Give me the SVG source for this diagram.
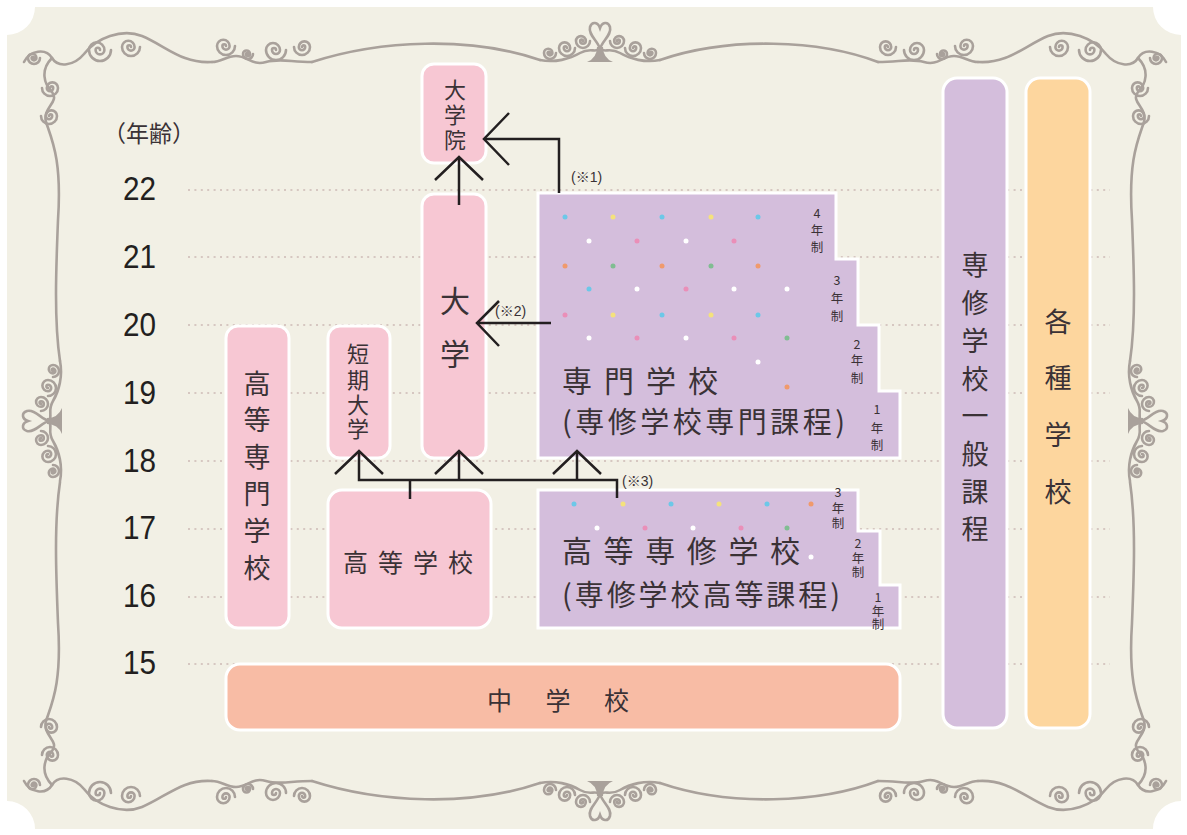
<svg xmlns="http://www.w3.org/2000/svg" xmlns:xlink="http://www.w3.org/1999/xlink" width="1187" height="835" viewBox="0 0 1187 835">
  <style>
    .orn { fill: none; stroke: #a9a19b; stroke-width: 2.6; stroke-linecap: round; }
    .ornfill { fill: #a9a19b; stroke: none; }
    .grid { stroke: #d6c7c1; stroke-width: 2; stroke-dasharray: 2 4.4; }
    .pink { fill: #f7c7d3; stroke: #ffffff; stroke-width: 3; }
    .purple { fill: #d4bedc; stroke: #ffffff; stroke-width: 3; }
    .orange { fill: #fdd69e; stroke: #ffffff; stroke-width: 3; }
    .salmon { fill: #f8bca5; stroke: #ffffff; stroke-width: 3; }
    .jp { font-family: "Noto Sans CJK JP", "Noto Sans CJK SC", sans-serif; fill: #3a3236; }
    .v { text-anchor: middle; dominant-baseline: central; }
    .age { font-family: "Liberation Sans", "Noto Sans", sans-serif; font-size: 33px; fill: #231f20; }
    .note { font-family: "Liberation Sans", "Noto Sans CJK JP", sans-serif; font-size: 14px; fill: #3a3236; }
    .yr { font-family: "Noto Sans CJK JP", sans-serif; font-size: 12.5px; fill: #3a3236; text-anchor: middle; dominant-baseline: central; }
    .ln { fill: none; stroke: #231f20; stroke-width: 2.5; stroke-linecap: butt; stroke-linejoin: miter; }
    .dc { fill: #6cc8e8; } .dy { fill: #f4e27c; } .dw { fill: #ffffff; }
    .dp { fill: #ea8fb8; } .do { fill: #f09a6c; } .dg { fill: #80bd92; }
  </style>
  <defs>
    <!-- inward spiral, radius 10 -->
    <path id="sp" d="M10,0 A10,10 0 0 1 -10,0 A7,7 0 0 1 4,0 A4,4 0 0 1 -4,0 A2,2 0 0 1 0,0" vector-effect="non-scaling-stroke"/>
    <!-- corner flourish (top-left orientation) -->
    <g id="corner">
      <path d="M24,62 C30,50 46,48 52,58 C58,68 74,66 84,54 C96,38 122,28 142,36 C166,46 182,64 212,62"/>
      <path d="M52,58 C40,70 44,84 52,92 C60,102 42,108 46,122 C52,140 62,160 58,220 C56,270 54,320 60,361"/>
      <use href="#sp" transform="translate(34,58) scale(0.6)"/>
      <use href="#sp" transform="translate(100,50) scale(1.1)"/>
      <use href="#sp" transform="translate(131,47) scale(0.9)"/>
      <use href="#sp" transform="translate(50,88) scale(-0.8,0.8)"/>
      <use href="#sp" transform="translate(49,116) scale(-0.8,0.8)"/>
    </g>
    <!-- small flourish beside the corner -->
    <g id="side">
      <path d="M212,62 C222,62 226,56 236,56 C248,56 252,66 266,62 C280,58 290,62 312,62"/>
      <use href="#sp" transform="translate(226,46) scale(0.9)"/>
      <use href="#sp" transform="translate(248,54) scale(0.5)"/>
      <use href="#sp" transform="translate(276,50) scale(1)"/>
      <use href="#sp" transform="translate(302,47) scale(-0.8,0.8)"/>
    </g>
    <!-- central heart ornament -->
    <g id="centre">
      <path d="M-60,15 C-45,18 -30,14 -20,8 C-10,2 -5,8 0,4 C5,8 10,2 20,8 C30,14 45,18 60,15"/>
      <path d="M0,4 C-2,-4 -12,-10 -10,-18 C-8,-24 -2,-23 0,-17 C2,-23 8,-24 10,-18 C12,-10 2,-4 0,4"/>
      <use href="#sp" transform="translate(-17,-4) scale(0.7)"/>
      <use href="#sp" transform="translate(17,-4) scale(-0.7,0.7)"/>
      <use href="#sp" transform="translate(-33,3) scale(0.8)"/>
      <use href="#sp" transform="translate(33,3) scale(-0.8,0.8)"/>
      <use href="#sp" transform="translate(-50,8) scale(0.6)"/>
      <use href="#sp" transform="translate(50,8) scale(-0.6,0.6)"/>
      <path class="ornfill" d="M-13,17 Q-3,13 -3,2 L3,2 Q3,13 13,17 Z"/>
    </g>
  </defs>

  <!-- background panel with notched corners -->
  <rect width="1187" height="835" fill="#ffffff"/>
  <path d="M35,7 H1153 A28,28 0 0 0 1181,35 V801 A28,28 0 0 0 1153,829 H35 A28,28 0 0 0 7,801 V35 A28,28 0 0 0 35,7 Z" fill="#f2f0e5"/>

  <!-- decorative frame -->
  <g id="frame" class="orn">
    <use href="#corner"/>
    <use href="#corner" transform="translate(1190,0) scale(-1,1)"/>
    <use href="#corner" transform="translate(0,843) scale(1,-1)"/>
    <use href="#corner" transform="translate(1190,843) scale(-1,-1)"/>
    <use href="#side"/>
    <use href="#side" transform="translate(1190,0) scale(-1,1)"/>
    <use href="#side" transform="translate(0,843) scale(1,-1)"/>
    <use href="#side" transform="translate(1190,843) scale(-1,-1)"/>
    <use href="#centre" transform="translate(600,45)"/>
    <use href="#centre" transform="translate(600,798) scale(1,-1)"/>
    <use href="#centre" transform="translate(45,421) rotate(-90)"/>
    <use href="#centre" transform="translate(1145,421) rotate(90)"/>
    <path d="M312,62 C380,40 470,36 540,60"/>
    <path d="M660,60 C730,36 820,40 878,62"/>
    <path d="M312,781 C380,803 470,807 540,783"/>
    <path d="M660,783 C730,807 820,803 878,781"/>
  </g>

  <!-- age scale -->
  <g id="ages">
    <text class="jp" x="103" y="132" font-size="23" dominant-baseline="central">（年齢）</text>
    <text class="age" transform="translate(123,200) scale(0.9,1)">22</text>
    <text class="age" transform="translate(123,268) scale(0.9,1)">21</text>
    <text class="age" transform="translate(123,336) scale(0.9,1)">20</text>
    <text class="age" transform="translate(123,404) scale(0.9,1)">19</text>
    <text class="age" transform="translate(123,472) scale(0.9,1)">18</text>
    <text class="age" transform="translate(123,539) scale(0.9,1)">17</text>
    <text class="age" transform="translate(123,607) scale(0.9,1)">16</text>
    <text class="age" transform="translate(123,674) scale(0.9,1)">15</text>
  </g>
  <g id="gridlines" class="grid">
    <line x1="188" y1="190" x2="1110" y2="190"/>
    <line x1="188" y1="257" x2="1110" y2="257"/>
    <line x1="188" y1="325" x2="1110" y2="325"/>
    <line x1="188" y1="393" x2="1110" y2="393"/>
    <line x1="188" y1="461" x2="1110" y2="461"/>
    <line x1="188" y1="529" x2="1110" y2="529"/>
    <line x1="188" y1="597" x2="1110" y2="597"/>
    <line x1="188" y1="664" x2="1110" y2="664"/>
  </g>

  <!-- schools -->
  <g id="n-daigakuin">
    <rect class="pink" x="422" y="64" width="64" height="99" rx="12"/>
    <text class="jp v" font-size="22" x="455" y="88">大</text>
    <text class="jp v" font-size="22" x="455" y="113">学</text>
    <text class="jp v" font-size="22" x="455" y="138">院</text>
  </g>
  <g id="n-daigaku">
    <rect class="pink" x="422" y="194" width="64" height="264" rx="12"/>
    <text class="jp v" font-size="30" x="455" y="299">大</text>
    <text class="jp v" font-size="30" x="455" y="352">学</text>
  </g>
  <g id="n-tanki">
    <rect class="pink" x="328" y="326" width="62" height="132" rx="12"/>
    <text class="jp v" font-size="22" x="358" y="352">短</text>
    <text class="jp v" font-size="22" x="358" y="378">期</text>
    <text class="jp v" font-size="22" x="358" y="403">大</text>
    <text class="jp v" font-size="22" x="358" y="427">学</text>
  </g>
  <g id="n-kosen">
    <rect class="pink" x="226" y="326" width="63" height="302" rx="12"/>
    <text class="jp v" font-size="27" x="257" y="382">高</text>
    <text class="jp v" font-size="27" x="257" y="418">等</text>
    <text class="jp v" font-size="27" x="257" y="455">専</text>
    <text class="jp v" font-size="27" x="257" y="492">門</text>
    <text class="jp v" font-size="27" x="257" y="529">学</text>
    <text class="jp v" font-size="27" x="257" y="566">校</text>
  </g>
  <g id="n-koko">
    <rect class="pink" x="328" y="490" width="163" height="138" rx="14"/>
    <text class="jp" font-size="25" x="343" y="561" dominant-baseline="central" textLength="130" lengthAdjust="spacing">高等学校</text>
  </g>
  <g id="n-senmon">
    <path class="purple" d="M538,193 H836 V259 H858 V325 H879 V391 H900 V458 H538 Z"/>
    <circle class="dc" cx="565" cy="217" r="2.5"/><circle class="dy" cx="613" cy="217" r="2.5"/><circle class="dc" cx="662" cy="217" r="2.5"/><circle class="dy" cx="711" cy="217" r="2.5"/><circle class="dc" cx="758" cy="217" r="2.5"/>
    <circle class="dw" cx="589" cy="241" r="2.5"/><circle class="dp" cx="637" cy="241" r="2.5"/><circle class="dw" cx="686" cy="241" r="2.5"/><circle class="dp" cx="734" cy="241" r="2.5"/>
    <circle class="do" cx="565" cy="266" r="2.5"/><circle class="dg" cx="613" cy="266" r="2.5"/><circle class="do" cx="662" cy="266" r="2.5"/><circle class="dg" cx="711" cy="266" r="2.5"/><circle class="do" cx="758" cy="266" r="2.5"/>
    <circle class="dc" cx="589" cy="289" r="2.5"/><circle class="dw" cx="637" cy="289" r="2.5"/><circle class="dp" cx="686" cy="289" r="2.5"/><circle class="dw" cx="734" cy="289" r="2.5"/><circle class="dw" cx="787" cy="289" r="2.5"/>
    <circle class="dp" cx="565" cy="315" r="2.5"/><circle class="dy" cx="613" cy="315" r="2.5"/><circle class="dc" cx="662" cy="315" r="2.5"/><circle class="dy" cx="711" cy="315" r="2.5"/><circle class="dc" cx="758" cy="315" r="2.5"/>
    <circle class="dw" cx="589" cy="338" r="2.5"/><circle class="dp" cx="637" cy="338" r="2.5"/><circle class="dw" cx="686" cy="338" r="2.5"/><circle class="dp" cx="734" cy="338" r="2.5"/><circle class="dg" cx="787" cy="338" r="2.5"/>
    <circle class="dw" cx="758" cy="362" r="2.5"/>
    <circle class="do" cx="787" cy="387" r="2.5"/>
    <text class="jp" font-size="30" x="562" y="379" dominant-baseline="central" textLength="156" lengthAdjust="spacing">専門学校</text>
    <text class="jp" font-size="29" x="562" y="420" dominant-baseline="central" textLength="283" lengthAdjust="spacing">(専修学校専門課程)</text>
    <text class="yr" x="817" y="212" font-size="15">4</text><text class="yr" x="817" y="229">年</text><text class="yr" x="817" y="246">制</text>
    <text class="yr" x="837" y="279" font-size="15">3</text><text class="yr" x="837" y="297">年</text><text class="yr" x="837" y="315">制</text>
    <text class="yr" x="857" y="343" font-size="15">2</text><text class="yr" x="857" y="359">年</text><text class="yr" x="857" y="377">制</text>
    <text class="yr" x="877" y="408" font-size="15">1</text><text class="yr" x="877" y="427">年</text><text class="yr" x="877" y="444">制</text>
  </g>
  <g id="n-koto-senshu">
    <path class="purple" d="M538,490 H858 V531 H880 V585 H900 V628 H538 Z"/>
    <circle class="dc" cx="574" cy="504" r="2.5"/><circle class="dy" cx="623" cy="504" r="2.5"/><circle class="dc" cx="671" cy="504" r="2.5"/><circle class="dy" cx="719" cy="504" r="2.5"/><circle class="dc" cx="767" cy="504" r="2.5"/><circle class="do" cx="811" cy="504" r="2.5"/>
    <circle class="dw" cx="597" cy="528" r="2.5"/><circle class="dp" cx="645" cy="528" r="2.5"/><circle class="dw" cx="693" cy="528" r="2.5"/><circle class="dp" cx="741" cy="528" r="2.5"/><circle class="dg" cx="787" cy="528" r="2.5"/>
    <circle class="dw" cx="811" cy="557" r="2.5"/>
    <text class="jp" font-size="30" x="562" y="549" dominant-baseline="central" textLength="238" lengthAdjust="spacing">高等専修学校</text>
    <text class="jp" font-size="29" x="562" y="593" dominant-baseline="central" textLength="278" lengthAdjust="spacing">(専修学校高等課程)</text>
    <text class="yr" x="838" y="491" font-size="15">3</text><text class="yr" x="838" y="507">年</text><text class="yr" x="838" y="522">制</text>
    <text class="yr" x="858" y="542" font-size="15">2</text><text class="yr" x="858" y="557">年</text><text class="yr" x="858" y="571">制</text>
    <text class="yr" x="878" y="596" font-size="15">1</text><text class="yr" x="878" y="610">年</text><text class="yr" x="878" y="623">制</text>
  </g>
  <g id="n-ippan">
    <rect class="purple" x="943" y="78" width="64" height="650" rx="14"/>
    <text class="jp v" font-size="27" x="975" y="263">専</text>
    <text class="jp v" font-size="27" x="975" y="301">修</text>
    <text class="jp v" font-size="27" x="975" y="339">学</text>
    <text class="jp v" font-size="27" x="975" y="377">校</text>
    <text class="jp v" font-size="27" x="975" y="414">一</text>
    <text class="jp v" font-size="27" x="975" y="452">般</text>
    <text class="jp v" font-size="27" x="975" y="490">課</text>
    <text class="jp v" font-size="27" x="975" y="527">程</text>
  </g>
  <g id="n-kakushu">
    <rect class="orange" x="1026" y="78" width="64" height="650" rx="14"/>
    <text class="jp v" font-size="27" x="1058" y="320">各</text>
    <text class="jp v" font-size="27" x="1058" y="376">種</text>
    <text class="jp v" font-size="27" x="1058" y="433">学</text>
    <text class="jp v" font-size="27" x="1058" y="490">校</text>
  </g>
  <g id="n-chugaku">
    <rect class="salmon" x="226" y="664" width="674" height="66" rx="14"/>
    <text class="jp" font-size="25" x="487" y="699" dominant-baseline="central" textLength="142" lengthAdjust="spacing">中学校</text>
  </g>

  <!-- progression arrows -->
  <g id="connectors">
    <polyline class="ln" points="559,193 559,139 485,139"/>
    <polyline class="ln" points="509,113 484,139 509,165"/>
    <line class="ln" x1="459" y1="158" x2="459" y2="205"/>
    <polyline class="ln" points="435,180 459,157 483,180"/>
    <line class="ln" x1="478" y1="323" x2="551" y2="323"/>
    <polyline class="ln" points="499,301 477,323 499,346"/>
    <polyline class="ln" points="359,452 359,480 617,480 617,498"/>
    <line class="ln" x1="459" y1="452" x2="459" y2="480"/>
    <line class="ln" x1="577" y1="452" x2="577" y2="480"/>
    <line class="ln" x1="410" y1="480" x2="410" y2="499"/>
    <polyline class="ln" points="335,474 359,451 383,474"/>
    <polyline class="ln" points="435,474 459,451 483,474"/>
    <polyline class="ln" points="553,474 577,451 601,474"/>
    <text class="note" x="571" y="182">(※1)</text>
    <text class="note" x="495" y="316">(※2)</text>
    <text class="note" x="622" y="486">(※3)</text>
  </g>
</svg>
